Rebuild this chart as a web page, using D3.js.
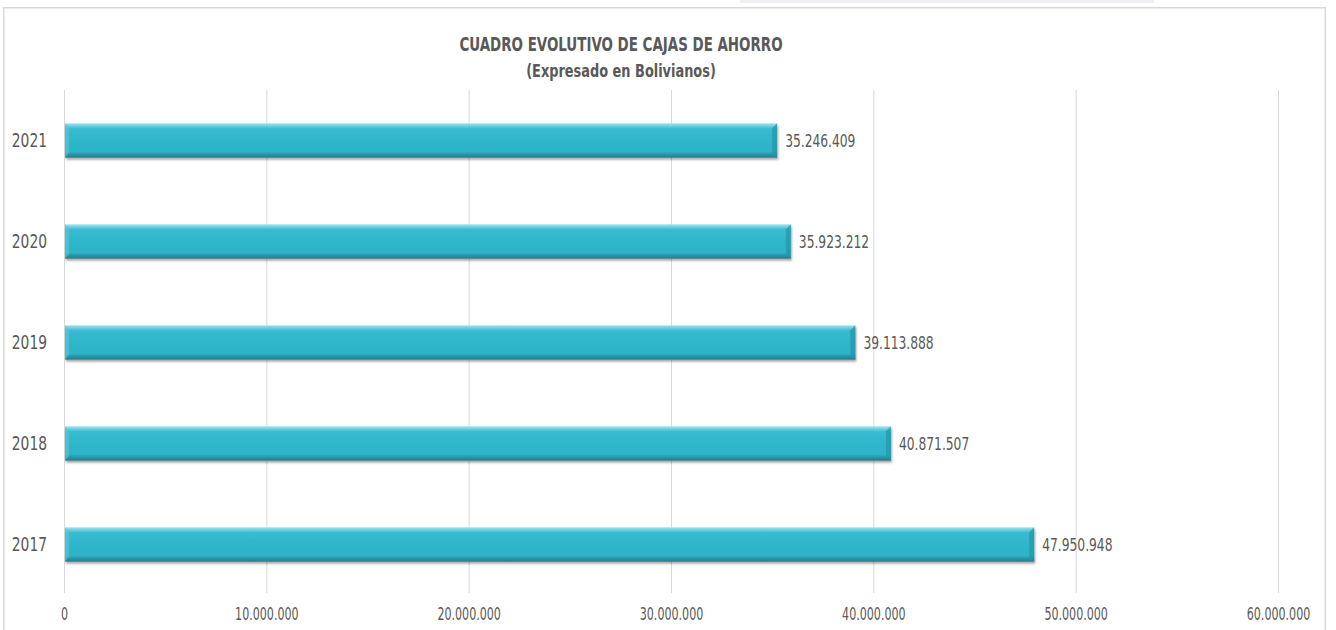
<!DOCTYPE html>
<html>
<head>
<meta charset="utf-8">
<script src="https://cdn.jsdelivr.net/npm/d3@7"></script>
<style>
  html, body { margin: 0; padding: 0; background: #fff; }
  svg { display: block; }
  text { font-family: "DejaVu Sans Condensed", "Liberation Sans", sans-serif; fill: #595959; }
</style>
</head>
<body>
<svg id="chart" width="1336" height="630"></svg>
<script>
const categories = ["2021", "2020", "2019", "2018", "2017"];
const values = [35246409, 35923212, 39113888, 40871507, 47950948];
const tickValues = [0, 10000000, 20000000, 30000000, 40000000, 50000000, 60000000];
const titleText = "CUADRO EVOLUTIVO DE CAJAS DE AHORRO";
const subtitleText = "(Expresado en Bolivianos)";

(function () {
const svg = d3.select("#chart");
const FONT = '"DejaVu Sans Condensed", "Liberation Sans", sans-serif';

// horizontally condense text to mimic the narrow reference font
function condense(sel, ratio) {
  sel.each(function () {
    const len = this.getComputedTextLength();
    d3.select(this).attr("textLength", len * ratio).attr("lengthAdjust", "spacingAndGlyphs");
  });
}

// faint bar at top
svg.append("rect").attr("x", 740).attr("y", 0).attr("width", 414).attr("height", 3)
  .attr("fill", "#f0eff6");

// chart frame
svg.append("rect").attr("x", 3.75).attr("y", 7.75).attr("width", 1321.5).attr("height", 640)
  .attr("fill", "#fff").attr("stroke", "#d9d9d9").attr("stroke-width", 1.5);

const pL = 64, pR = 1278, pT = 90, pB = 595;
const x = d3.scaleLinear().domain([0, 60000000]).range([pL, pR]);
const y = d3.scaleBand().domain(categories).range([pT, pB]).paddingInner(0.66).paddingOuter(0.33);

const fmt = v => d3.format(",")(v).replace(/,/g, ".");

// gridlines
svg.append("g").selectAll("line").data(tickValues).join("line")
  .attr("x1", d => x(d) + 0.5).attr("x2", d => x(d) + 0.5)
  .attr("y1", pT).attr("y2", 593)
  .attr("stroke", "#d9d9d9").attr("stroke-width", 1);

// x axis labels
const xAxis = d3.axisBottom(x).tickValues(tickValues).tickSize(0).tickFormat(fmt);
const gx = svg.append("g").attr("transform", `translate(0,${605})`).call(xAxis);
gx.select(".domain").remove();
gx.selectAll("text").attr("font-size", 17).attr("fill", "#595959").style("font-family", FONT);
condense(gx.selectAll("text"), 0.725);

// y axis labels
const yAxis = d3.axisLeft(y).tickSize(0).tickPadding(0);
const gy = svg.append("g").attr("transform", `translate(47,0)`).call(yAxis);
gy.select(".domain").remove();
gy.selectAll("text").attr("font-size", 19).attr("fill", "#595959").attr("dy", "0.35em").style("font-family", FONT);
condense(gy.selectAll("text"), 0.81);

// gradients
const defs = svg.append("defs");
const g1 = defs.append("linearGradient").attr("id", "barGrad").attr("x1", 0).attr("y1", 0).attr("x2", 0).attr("y2", 1);
[[0, "#a9dfe9"], [0.06, "#7fd0df"], [0.16, "#38bbd0"], [0.5, "#2fb6cb"], [0.82, "#2eb3c8"], [0.9, "#2399ac"], [1, "#1b7f8f"]]
  .forEach(([o, c]) => g1.append("stop").attr("offset", o).attr("stop-color", c));
const f = defs.append("filter").attr("id", "shadow").attr("x", "-5%").attr("y", "-20%").attr("width", "110%").attr("height", "160%");
f.append("feDropShadow").attr("dx", 1).attr("dy", 2).attr("stdDeviation", 1.2).attr("flood-color", "#000").attr("flood-opacity", 0.35);

const bars = svg.append("g").selectAll("g").data(categories).join("g");
bars.append("rect")
  .attr("x", x(0) + 1).attr("y", d => y(d))
  .attr("width", (d, i) => x(values[i]) - x(0) - 1)
  .attr("height", y.bandwidth())
  .attr("fill", "url(#barGrad)")
  .attr("filter", "url(#shadow)");
// right bevel edge
bars.append("path")
  .attr("d", (d, i) => {
    const xe = x(values[i]), y0 = y(d), h = y.bandwidth();
    return `M${xe - 5},${y0 + 5} L${xe},${y0} L${xe},${y0 + h} L${xe - 5},${y0 + h - 5} Z`;
  })
  .attr("fill", "#2496a8").attr("opacity", 0.7);
// left bevel edge
bars.append("path")
  .attr("d", d => {
    const xs = x(0) + 1, y0 = y(d), h = y.bandwidth();
    return `M${xs},${y0} L${xs + 4},${y0 + 4} L${xs + 4},${y0 + h - 5} L${xs},${y0 + h} Z`;
  })
  .attr("fill", "#5cc6d8").attr("opacity", 0.6);

// value labels
const vl = svg.append("g").selectAll("text").data(categories).join("text")
  .attr("x", (d, i) => x(values[i]) + 8)
  .attr("y", d => y(d) + y.bandwidth() / 2)
  .attr("dy", "0.35em")
  .attr("font-size", 17.5)
  .text((d, i) => fmt(values[i]));
condense(vl, 0.78);

// title
const t1 = svg.append("text").attr("x", 621).attr("y", 51).attr("text-anchor", "middle")
  .attr("font-size", 19).attr("font-weight", "bold").text(titleText);
condense(t1, 0.785);
const t2 = svg.append("text").attr("x", 621).attr("y", 77).attr("text-anchor", "middle")
  .attr("font-size", 17.5).attr("font-weight", "bold").text(subtitleText);
condense(t2, 0.82);
})();
</script>
</body>
</html>
